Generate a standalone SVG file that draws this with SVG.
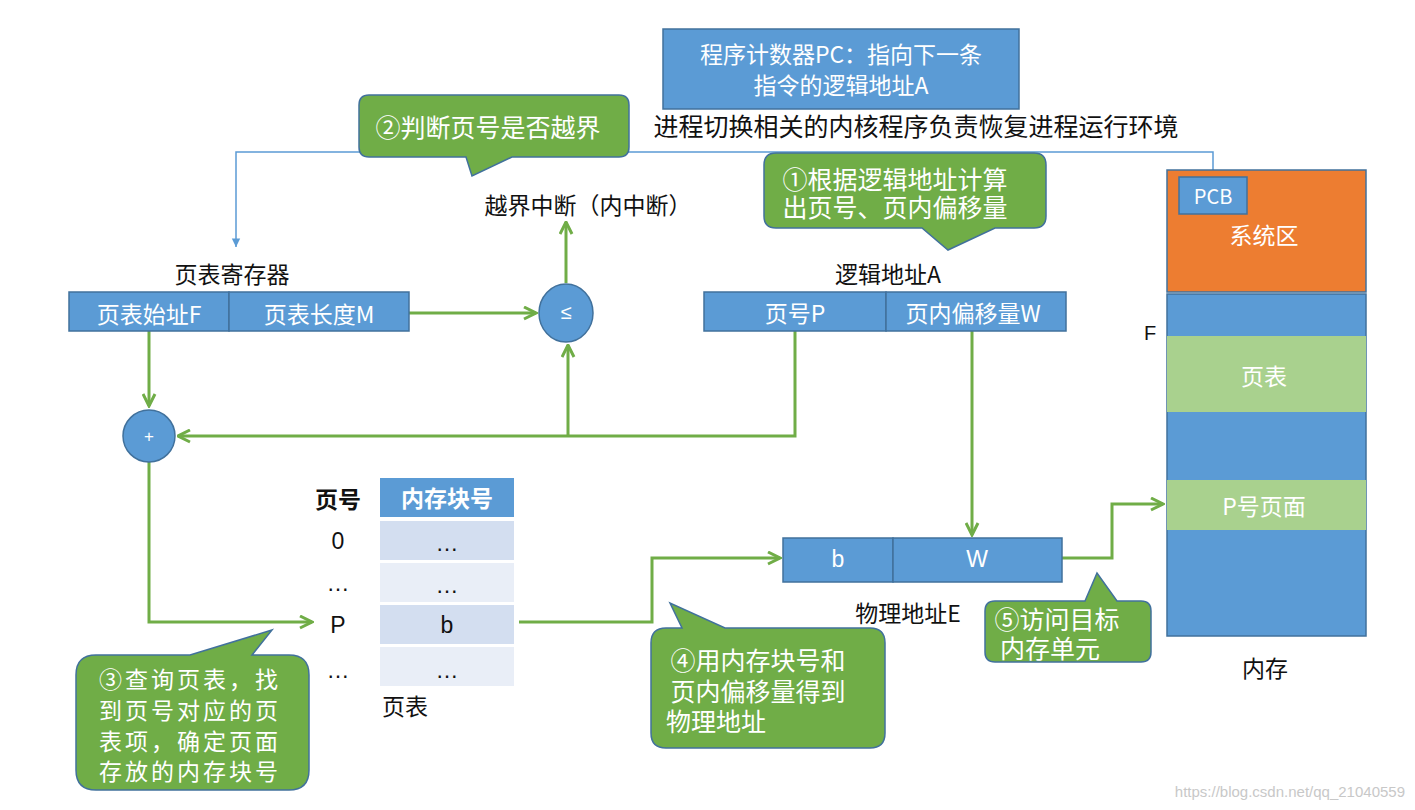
<svg xmlns="http://www.w3.org/2000/svg" width="1415" height="810" viewBox="0 0 1415 810">
<style>
text{font-family:"Noto Sans CJK SC","Liberation Sans",sans-serif;font-size:23px;text-anchor:middle;dominant-baseline:central}
.w{fill:#fff}.k{fill:#111}
.L{font-size:25px}
.m{font-family:"Liberation Sans",sans-serif}
.b{fill:#5B9BD5;stroke:#41719C;stroke-width:1.5}
.c{fill:#70AD47;stroke:#41719C;stroke-width:1.5}
.g{fill:none;stroke:#70AD47;stroke-width:3}
</style>
<defs>
<marker id="ga" viewBox="0 0 10 10" refX="9" refY="5" markerWidth="5" markerHeight="5" orient="auto"><path d="M1,1 L9,5 L1,9" fill="none" stroke="#70AD47" stroke-width="2"/></marker>
<marker id="ba" viewBox="0 0 10 10" refX="9" refY="5" markerWidth="7" markerHeight="7" orient="auto"><path d="M1,1 L9,5 L1,9 Z" fill="#5B9BD5"/></marker>
</defs>
<rect width="1415" height="810" fill="#fff"/>
<g id="pc"><rect class="b" x="663" y="29" width="356" height="80"/><text class="w" x="841" y="53">程序计数器PC：指向下一条</text><text class="w" x="841" y="84">指令的逻辑地址A</text></g>
<text class="k L" x="916" y="125">进程切换相关的内核程序负责恢复进程运行环境</text>
<g id="connectors">
<path d="M1213,178 V152 H236 V247" fill="none" stroke="#5B9BD5" stroke-width="1.5" marker-end="url(#ba)"/>
<path class="g" d="M409,313 H536" marker-end="url(#ga)"/>
<path class="g" d="M566,283 V222" marker-end="url(#ga)"/>
<path class="g" d="M795,331 V436 H178" marker-end="url(#ga)"/>
<path class="g" d="M568,436 V345" marker-end="url(#ga)"/>
<path class="g" d="M149,331 V406" marker-end="url(#ga)"/>
<path class="g" d="M149,462 V622 H312" marker-end="url(#ga)"/>
<path class="g" d="M972,331 V535" marker-end="url(#ga)"/>
<path class="g" d="M519,622 H652 V558 H780" marker-end="url(#ga)"/>
<path class="g" d="M1062,558 H1112 V504 H1163" marker-end="url(#ga)"/>
</g>
<g id="callout2"><path class="c" d="M369,95 H619 Q629,95 629,105 V147 Q629,157 619,157 H512 L472,176 L466,157 H369 Q359,157 359,147 V105 Q359,95 369,95 Z"/><text class="w L" x="488" y="126">②判断页号是否越界</text></g>
<text class="k" x="588" y="204">越界中断（内中断）</text>
<g id="callout1"><path class="c" d="M776,153 H1034 Q1046,153 1046,165 V216 Q1046,228 1034,228 H995 L948,250 L922,228 H776 Q764,228 764,216 V165 Q764,153 776,153 Z"/><text class="w L" x="895" y="178">①根据逻辑地址计算</text><text class="w L" x="895" y="206">出页号、页内偏移量</text></g>
<text class="k" x="232" y="273">页表寄存器</text>
<g id="reg"><rect class="b" x="69" y="292" width="160" height="39"/><rect class="b" x="229" y="292" width="180" height="39"/><text class="w" x="149" y="313">页表始址F</text><text class="w" x="319" y="313">页表长度M</text></g>
<g id="cmp"><ellipse class="b" cx="566" cy="313" rx="27" ry="29"/><text class="w m" x="566" y="312" style="font-size:20px">≤</text></g>
<text class="k" x="888" y="273">逻辑地址A</text>
<g id="la"><rect class="b" x="704" y="292" width="182" height="39"/><rect class="b" x="886" y="292" width="180" height="39"/><text class="w" x="795" y="312">页号P</text><text class="w" x="973" y="312">页内偏移量W</text></g>
<g id="add"><circle class="b" cx="149" cy="436" r="26"/><text class="w m" x="149" y="436" style="font-size:17px">+</text></g>
<g id="table">
<text class="k" x="338" y="498" font-weight="bold">页号</text>
<rect x="380" y="478" width="134" height="39" fill="#5B9BD5"/><text class="w" x="447" y="497" font-weight="bold">内存块号</text>
<rect x="380" y="521" width="134" height="39" fill="#D3DEF0"/><rect x="380" y="563" width="134" height="39" fill="#E9EEF7"/><rect x="380" y="605" width="134" height="39" fill="#D3DEF0"/><rect x="380" y="647" width="134" height="39" fill="#E9EEF7"/>
<g style="font-size:20px"><text class="k m" x="338" y="541">0</text><text class="k m" x="338" y="583">…</text><text class="k m" x="338" y="625">P</text><text class="k m" x="338" y="670">…</text>
<text class="k m" x="447" y="543">…</text><text class="k m" x="447" y="585">…</text><text class="k m" x="447" y="625">b</text><text class="k m" x="447" y="670">…</text></g>
<text class="k" x="405" y="705">页表</text>
</g>
<g id="callout3"><path class="c" d="M96,655 H190 L272,630 L252,655 H289 Q309,655 309,675 V770 Q309,790 289,790 H96 Q76,790 76,770 V675 Q76,655 96,655 Z"/>
<g class="L" letter-spacing="3"><text class="w" x="190" y="678">③查询页表，找</text><text class="w" x="190" y="709">到页号对应的页</text><text class="w" x="190" y="740">表项，确定页面</text><text class="w" x="190" y="770">存放的内存块号</text></g></g>
<g id="callout4"><path class="c" d="M666,628 H682 L670,603 L725,628 H870 Q885,628 885,643 V733 Q885,748 870,748 H666 Q651,748 651,733 V643 Q651,628 666,628 Z"/>
<text class="w L" x="758" y="659">④用内存块号和</text><text class="w L" x="758" y="690">页内偏移量得到</text><text class="w L" x="716" y="720">物理地址</text></g>
<g id="pa"><rect class="b" x="783" y="538" width="110" height="44"/><rect class="b" x="893" y="538" width="169" height="44"/><text class="w m" x="838" y="559">b</text><text class="w m" x="977" y="559">W</text></g>
<text class="k" x="908" y="612">物理地址E</text>
<g id="callout5"><path class="c" d="M995,601 H1085 L1097,573 L1117,601 H1141 Q1151,601 1151,611 V652 Q1151,662 1141,662 H995 Q985,662 985,652 V611 Q985,601 995,601 Z"/>
<text class="w L" x="1057" y="618">⑤访问目标</text><text class="w L" x="1050" y="647">内存单元</text></g>
<g id="mem">
<rect x="1167" y="170" width="199" height="122" fill="#ED7D31" stroke="#41719C" stroke-width="1.5"/>
<rect class="b" x="1167" y="294" width="199" height="342"/>
<rect x="1167" y="336" width="199" height="76" fill="#A9D18E"/>
<rect x="1167" y="480" width="199" height="50" fill="#A9D18E"/>
<rect class="b" x="1179" y="177" width="68" height="37"/><text class="w" x="1213" y="195" style="font-size:20px">PCB</text>
<text class="w" x="1264" y="234">系统区</text>
<text class="w" x="1264" y="375">页表</text>
<text class="w" x="1264" y="505">P号页面</text>
<text class="k m" x="1150" y="333" style="font-size:20px">F</text>
<text class="k" x="1265" y="667">内存</text>
</g>
<text x="1405" y="791" fill="#c8c8c8" style="font-size:15px;font-family:'Liberation Sans',sans-serif;text-anchor:end">https://blog.csdn.net/qq_21040559</text>
</svg>
